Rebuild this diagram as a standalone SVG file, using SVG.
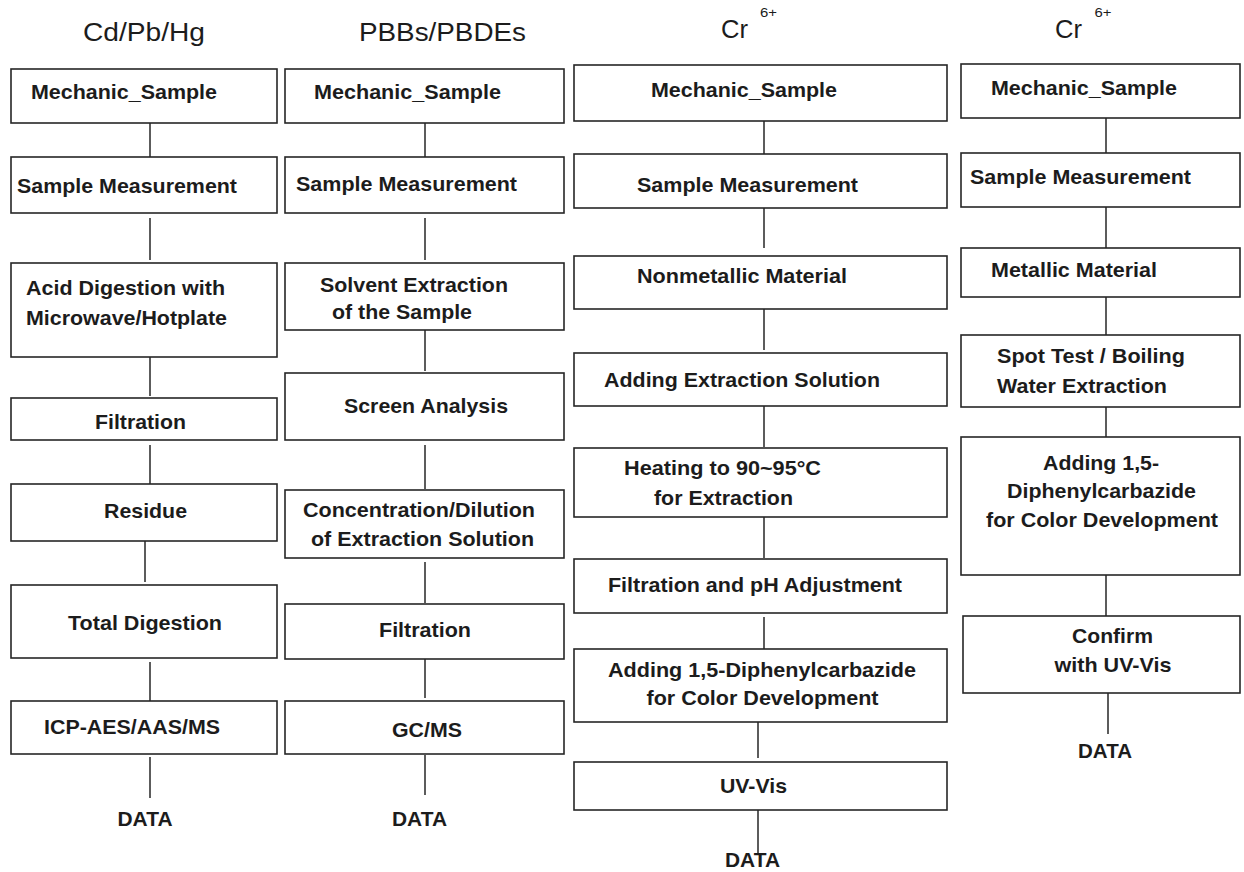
<svg xmlns="http://www.w3.org/2000/svg" width="1244" height="872" viewBox="0 0 1244 872">
<style>
.box{fill:#fff;stroke:#262626;stroke-width:1.6}
.con line{stroke:#262626;stroke-width:1.5}
text{font-family:"Liberation Sans",Arial,sans-serif;fill:#1c1c1c}
.t{font-weight:bold;font-size:21px}
.h{font-size:25px}
.sup{font-size:12.5px}
</style>
<rect width="1244" height="872" fill="#fff"/>
<g id="titles">
<text class="h" x="83" y="41" textLength="122" lengthAdjust="spacingAndGlyphs">Cd/Pb/Hg</text>
<text class="h" x="359" y="41" textLength="167" lengthAdjust="spacingAndGlyphs">PBBs/PBDEs</text>
<text class="h" x="721" y="38" textLength="27" lengthAdjust="spacingAndGlyphs">Cr</text>
<text class="sup" x="760" y="17" textLength="17" lengthAdjust="spacingAndGlyphs">6+</text>
<text class="h" x="1055" y="38" textLength="27" lengthAdjust="spacingAndGlyphs">Cr</text>
<text class="sup" x="1094.5" y="17" textLength="17" lengthAdjust="spacingAndGlyphs">6+</text>
</g>
<g class="con" id="connectors">
<line x1="150" y1="117" x2="150" y2="157"/>
<line x1="150" y1="218" x2="150" y2="260"/>
<line x1="150" y1="354" x2="150" y2="396"/>
<line x1="150" y1="445" x2="150" y2="485"/>
<line x1="145" y1="541" x2="145" y2="582"/>
<line x1="150" y1="662" x2="150" y2="703"/>
<line x1="150" y1="757" x2="150" y2="798"/>
<line x1="425" y1="123" x2="425" y2="157"/>
<line x1="425" y1="218" x2="425" y2="260"/>
<line x1="425" y1="330" x2="425" y2="371"/>
<line x1="425" y1="445" x2="425" y2="489"/>
<line x1="425" y1="562" x2="425" y2="603"/>
<line x1="425" y1="657" x2="425" y2="698"/>
<line x1="425" y1="755" x2="425" y2="795"/>
<line x1="764" y1="121" x2="764" y2="154"/>
<line x1="764" y1="208" x2="764" y2="248"/>
<line x1="764" y1="309" x2="764" y2="350"/>
<line x1="764" y1="406" x2="764" y2="447"/>
<line x1="764" y1="517" x2="764" y2="558"/>
<line x1="764" y1="617" x2="764" y2="657"/>
<line x1="758" y1="718" x2="758" y2="758"/>
<line x1="758" y1="810" x2="758" y2="853"/>
<line x1="1106" y1="118" x2="1106" y2="158"/>
<line x1="1106" y1="207" x2="1106" y2="248"/>
<line x1="1106" y1="297" x2="1106" y2="335"/>
<line x1="1106" y1="407" x2="1106" y2="440"/>
<line x1="1106" y1="575" x2="1106" y2="617"/>
<line x1="1108" y1="693" x2="1108" y2="734"/>
</g>
<g id="c1n1"><rect class="box" x="11" y="69" width="266" height="54"/><text class="t" x="31" y="99" textLength="186" lengthAdjust="spacingAndGlyphs">Mechanic_Sample</text></g>
<g id="c1n2"><rect class="box" x="11" y="157" width="266" height="56"/><text class="t" x="17" y="193" textLength="220" lengthAdjust="spacingAndGlyphs">Sample Measurement</text></g>
<g id="c1n3"><rect class="box" x="11" y="263" width="266" height="94"/><text class="t" x="26" y="295" textLength="199" lengthAdjust="spacingAndGlyphs">Acid Digestion with</text><text class="t" x="26" y="325" textLength="201" lengthAdjust="spacingAndGlyphs">Microwave/Hotplate</text></g>
<g id="c1n4"><rect class="box" x="11" y="398" width="266" height="42"/><text class="t" x="95" y="429" textLength="91" lengthAdjust="spacingAndGlyphs">Filtration</text></g>
<g id="c1n5"><rect class="box" x="11" y="484" width="266" height="57"/><text class="t" x="104" y="518" textLength="83" lengthAdjust="spacingAndGlyphs">Residue</text></g>
<g id="c1n6"><rect class="box" x="11" y="585" width="266" height="73"/><text class="t" x="68" y="630" textLength="154" lengthAdjust="spacingAndGlyphs">Total Digestion</text></g>
<g id="c1n7"><rect class="box" x="11" y="701" width="266" height="53"/><text class="t" x="44" y="734" textLength="176" lengthAdjust="spacingAndGlyphs">ICP-AES/AAS/MS</text></g>
<g id="c1d"><text class="t" x="117.5" y="826" textLength="55" lengthAdjust="spacingAndGlyphs">DATA</text></g>
<g id="c2n1"><rect class="box" x="285" y="69" width="279" height="54"/><text class="t" x="314" y="99" textLength="187" lengthAdjust="spacingAndGlyphs">Mechanic_Sample</text></g>
<g id="c2n2"><rect class="box" x="285" y="157" width="279" height="56"/><text class="t" x="296" y="191" textLength="221" lengthAdjust="spacingAndGlyphs">Sample Measurement</text></g>
<g id="c2n3"><rect class="box" x="285" y="263" width="279" height="67"/><text class="t" x="320" y="292" textLength="188" lengthAdjust="spacingAndGlyphs">Solvent Extraction</text><text class="t" x="332" y="319" textLength="140" lengthAdjust="spacingAndGlyphs">of the Sample</text></g>
<g id="c2n4"><rect class="box" x="285" y="373" width="279" height="67"/><text class="t" x="344" y="413" textLength="164" lengthAdjust="spacingAndGlyphs">Screen Analysis</text></g>
<g id="c2n5"><rect class="box" x="285" y="490" width="279" height="68"/><text class="t" x="303" y="517" textLength="232" lengthAdjust="spacingAndGlyphs">Concentration/Dilution</text><text class="t" x="311" y="546" textLength="223" lengthAdjust="spacingAndGlyphs">of Extraction Solution</text></g>
<g id="c2n6"><rect class="box" x="285" y="604" width="279" height="55"/><text class="t" x="379" y="637" textLength="92" lengthAdjust="spacingAndGlyphs">Filtration</text></g>
<g id="c2n7"><rect class="box" x="285" y="701" width="279" height="53"/><text class="t" x="392" y="737" textLength="70" lengthAdjust="spacingAndGlyphs">GC/MS</text></g>
<g id="c2d"><text class="t" x="392" y="826" textLength="55" lengthAdjust="spacingAndGlyphs">DATA</text></g>
<g id="c3n1"><rect class="box" x="574" y="65" width="373" height="56"/><text class="t" x="651" y="97" textLength="186" lengthAdjust="spacingAndGlyphs">Mechanic_Sample</text></g>
<g id="c3n2"><rect class="box" x="574" y="154" width="373" height="54"/><text class="t" x="637" y="192" textLength="221" lengthAdjust="spacingAndGlyphs">Sample Measurement</text></g>
<g id="c3n3"><rect class="box" x="574" y="256" width="373" height="53"/><text class="t" x="637" y="283" textLength="210" lengthAdjust="spacingAndGlyphs">Nonmetallic Material</text></g>
<g id="c3n4"><rect class="box" x="574" y="353" width="373" height="53"/><text class="t" x="604" y="387" textLength="276" lengthAdjust="spacingAndGlyphs">Adding Extraction Solution</text></g>
<g id="c3n5"><rect class="box" x="574" y="448" width="373" height="69"/><text class="t" x="624" y="475" textLength="197" lengthAdjust="spacingAndGlyphs">Heating to 90~95°C</text><text class="t" x="654" y="505" textLength="139" lengthAdjust="spacingAndGlyphs">for Extraction</text></g>
<g id="c3n6"><rect class="box" x="574" y="559" width="373" height="54"/><text class="t" x="608" y="592" textLength="294" lengthAdjust="spacingAndGlyphs">Filtration and pH Adjustment</text></g>
<g id="c3n7"><rect class="box" x="574" y="649" width="373" height="73"/><text class="t" x="608" y="677" textLength="308" lengthAdjust="spacingAndGlyphs">Adding 1,5-Diphenylcarbazide</text><text class="t" x="646.5" y="705" textLength="232" lengthAdjust="spacingAndGlyphs">for Color Development</text></g>
<g id="c3n8"><rect class="box" x="574" y="762" width="373" height="48"/><text class="t" x="720" y="793" textLength="67" lengthAdjust="spacingAndGlyphs">UV-Vis</text></g>
<g id="c3d"><text class="t" x="725" y="867" textLength="55" lengthAdjust="spacingAndGlyphs">DATA</text></g>
<g id="c4n1"><rect class="box" x="961" y="64" width="279" height="54"/><text class="t" x="991" y="95" textLength="186" lengthAdjust="spacingAndGlyphs">Mechanic_Sample</text></g>
<g id="c4n2"><rect class="box" x="961" y="153" width="279" height="54"/><text class="t" x="970" y="184" textLength="221" lengthAdjust="spacingAndGlyphs">Sample Measurement</text></g>
<g id="c4n3"><rect class="box" x="961" y="248" width="279" height="49"/><text class="t" x="991" y="277" textLength="166" lengthAdjust="spacingAndGlyphs">Metallic Material</text></g>
<g id="c4n4"><rect class="box" x="961" y="335" width="279" height="72"/><text class="t" x="997" y="363" textLength="188" lengthAdjust="spacingAndGlyphs">Spot Test / Boiling</text><text class="t" x="997" y="393" textLength="170" lengthAdjust="spacingAndGlyphs">Water Extraction</text></g>
<g id="c4n5"><rect class="box" x="961" y="437" width="279" height="138"/><text class="t" x="1043" y="470" textLength="116" lengthAdjust="spacingAndGlyphs">Adding 1,5-</text><text class="t" x="1007" y="498" textLength="189" lengthAdjust="spacingAndGlyphs">Diphenylcarbazide</text><text class="t" x="986" y="527" textLength="232" lengthAdjust="spacingAndGlyphs">for Color Development</text></g>
<g id="c4n6"><rect class="box" x="963" y="616" width="277" height="77"/><text class="t" x="1072" y="643" textLength="81" lengthAdjust="spacingAndGlyphs">Confirm</text><text class="t" x="1054.5" y="672" textLength="117" lengthAdjust="spacingAndGlyphs">with UV-Vis</text></g>
<g id="c4d"><text class="t" x="1078" y="758" textLength="54" lengthAdjust="spacingAndGlyphs">DATA</text></g>
</svg>
